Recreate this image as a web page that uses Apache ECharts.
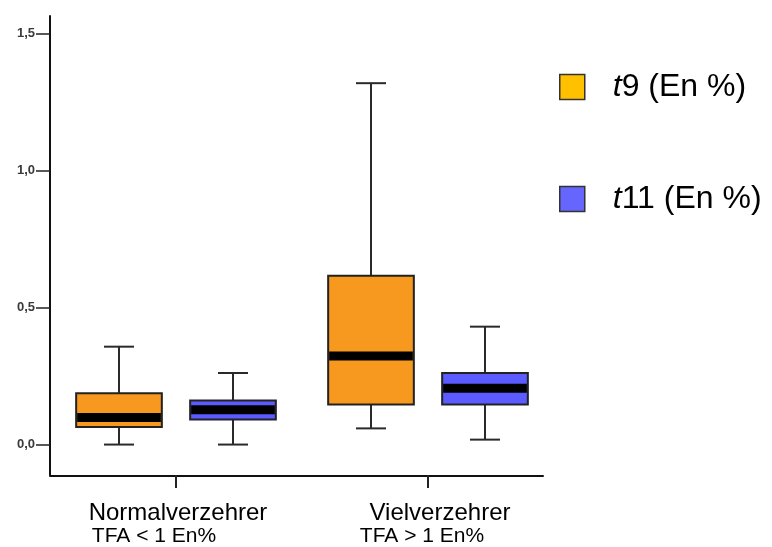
<!DOCTYPE html>
<html>
<head>
<meta charset="utf-8">
<script src="https://cdn.jsdelivr.net/npm/echarts@6/dist/echarts.min.js"></script>
<style>html,body{margin:0;padding:0;background:#fff}#c{width:772px;height:547px}</style>
</head>
<body>
<div id="c"></div>
<script>
// ---- data ----
var categories = ['Normalverzehrer', 'Vielverzehrer'];
var subLabels = ['TFA < 1 En%', 'TFA > 1 En%'];
var seriesNames = ['t9 (En %)', 't11 (En %)'];
// [min, q1, median, q3, max] per category
var t9Values = [
  [0.000, 0.064, 0.099, 0.187, 0.357],
  [0.059, 0.146, 0.323, 0.616, 1.318]
];
var t11Values = [
  [0.000, 0.091, 0.127, 0.161, 0.261],
  [0.018, 0.146, 0.205, 0.261, 0.430]
];
var yTickValues = [0, 0.5, 1.0, 1.5];

var FONT = "'Liberation Sans', Arial, Helvetica, sans-serif";

function toData(vals) {
  return vals.map(function (v, i) { return [i].concat(v); });
}

function makeRender(offsetFrac, fill) {
  return function (params, api) {
    var cat = api.value(0);
    var band = api.size([1, 0])[0];
    var cx = api.coord([cat, 0])[0] + offsetFrac * band;
    var w = band * 0.34;
    var capW = 30;
    var yLow = api.coord([cat, api.value(1)])[1];
    var yQ1 = api.coord([cat, api.value(2)])[1];
    var yMed = api.coord([cat, api.value(3)])[1];
    var yQ3 = api.coord([cat, api.value(4)])[1];
    var yHigh = api.coord([cat, api.value(5)])[1];
    var wStyle = { stroke: '#2a2a2a', lineWidth: 2 };
    return {
      type: 'group',
      children: [
        { type: 'line', shape: { x1: cx, y1: yHigh, x2: cx, y2: yQ3 }, style: wStyle },
        { type: 'line', shape: { x1: cx - capW / 2, y1: yHigh, x2: cx + capW / 2, y2: yHigh }, style: wStyle },
        { type: 'line', shape: { x1: cx, y1: yQ1, x2: cx, y2: yLow }, style: wStyle },
        { type: 'line', shape: { x1: cx - capW / 2, y1: yLow, x2: cx + capW / 2, y2: yLow }, style: wStyle },
        { type: 'rect', shape: { x: cx - w / 2, y: yQ3, width: w, height: yQ1 - yQ3 },
          style: { fill: fill, stroke: '#222', lineWidth: 2 } },
        { type: 'rect', shape: { x: cx - w / 2 + 1, y: yMed - 4.5, width: w - 2, height: 9 },
          style: { fill: '#000' } }
      ]
    };
  };
}

var chart = echarts.init(document.getElementById('c'), null, { renderer: 'canvas' });
chart.setOption({
  animation: false,
  backgroundColor: '#fff',
  textStyle: { fontFamily: FONT },
  legend: {
    orient: 'vertical',
    left: 554,
    top: 66,
    itemWidth: 25,
    itemHeight: 25,
    itemGap: 80,
    selectedMode: false,
    icon: 'rect',
    data: [
      { name: seriesNames[0], itemStyle: { color: '#FFC000', borderColor: '#333', borderWidth: 1.5 } },
      { name: seriesNames[1], itemStyle: { color: '#6666FF', borderColor: '#333', borderWidth: 1.5 } }
    ],
    formatter: function (name) {
      var rest = name.slice(1);
      return '{i|t}{r|' + rest + '}';
    },
    textStyle: {
      fontFamily: FONT,
      fontSize: 32,
      lineHeight: 30,
      color: '#000',
      rich: {
        i: { fontStyle: 'italic', fontSize: 32, fontFamily: FONT, color: '#000', padding: [0, 0, 0, 23] },
        r: { fontSize: 32, fontFamily: FONT, color: '#000' }
      }
    }
  },
  grid: [
    { left: 50, right: 218, top: 16, bottom: 71, containLabel: false },
    { left: 50, right: 229, top: 16, bottom: 71, containLabel: false }
  ],
  xAxis: [
    {
      type: 'category',
      gridIndex: 0,
      data: categories,
      axisLine: { show: false, onZero: false },
      axisTick: { show: true, alignWithLabel: true, length: 13, lineStyle: { color: '#222', width: 2 } },
      splitLine: { show: false },
      axisLabel: {
        interval: 0,
        margin: 26,
        color: '#000',
        formatter: function (v, i) {
          return '{n' + i + '|' + v + '}\n{s' + i + '|' + subLabels[i] + '}';
        },
        rich: {
          n0: { fontSize: 24, lineHeight: 24, fontFamily: FONT, color: '#000', padding: [0, 0, 0, 4] },
          s0: { fontSize: 21, lineHeight: 23, fontFamily: FONT, color: '#000', padding: [0, 44, 0, 0] },
          n1: { fontSize: 24, lineHeight: 24, fontFamily: FONT, color: '#000', padding: [0, 0, 0, 24] },
          s1: { fontSize: 21, lineHeight: 23, fontFamily: FONT, color: '#000', padding: [0, 12, 0, 0] }
        }
      }
    },
    {
      type: 'value',
      gridIndex: 1,
      min: 0,
      max: 1,
      axisLine: { show: true, onZero: false, lineStyle: { color: '#111', width: 2 } },
      axisTick: { show: false },
      axisLabel: { show: false },
      splitLine: { show: false }
    }
  ],
  yAxis: [
    {
      type: 'value',
      gridIndex: 0,
      min: -0.111,
      max: 1.563,
      axisLine: { show: true, lineStyle: { color: '#111', width: 2 } },
      axisTick: { show: true, length: 14, customValues: yTickValues, lineStyle: { color: '#222', width: 1.5 } },
      splitLine: { show: false },
      axisLabel: {
        customValues: yTickValues,
        margin: 15,
        fontSize: 13,
        fontWeight: 'bold',
        color: '#3a3a3a',
        fontFamily: FONT,
        formatter: function (v) { return v.toFixed(1).replace('.', ','); }
      }
    },
    {
      type: 'value',
      gridIndex: 1,
      min: 0,
      max: 1,
      show: false
    }
  ],
  series: [
    {
      name: seriesNames[0],
      type: 'custom',
      xAxisIndex: 0,
      yAxisIndex: 0,
      itemStyle: { color: '#FFC000' },
      renderItem: makeRender(-57 / 252, '#F7981F'),
      encode: { x: 0, y: [1, 2, 3, 4, 5] },
      data: toData(t9Values)
    },
    {
      name: seriesNames[1],
      type: 'custom',
      xAxisIndex: 0,
      yAxisIndex: 0,
      itemStyle: { color: '#6666FF' },
      renderItem: makeRender(57 / 252, '#5B5BFF'),
      encode: { x: 0, y: [1, 2, 3, 4, 5] },
      data: toData(t11Values)
    }
  ]
});
</script>
</body>
</html>
